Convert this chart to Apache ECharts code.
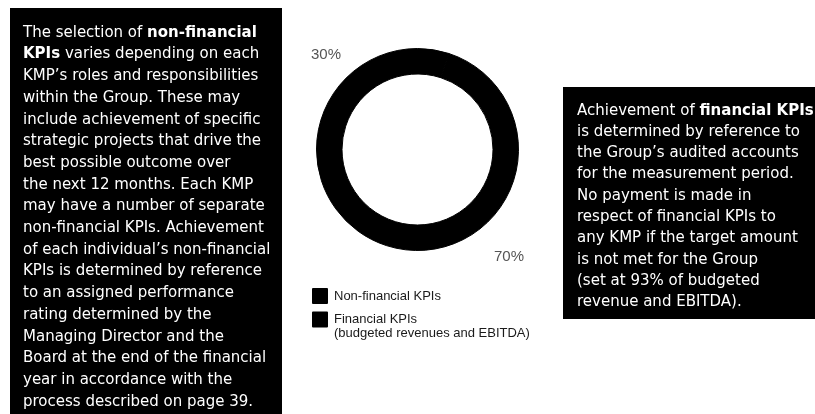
<!DOCTYPE html>
<html>
<head>
<meta charset="utf-8">
<script src="https://cdn.jsdelivr.net/npm/echarts@6/dist/echarts.min.js"></script>
<style>
html,body{margin:0;padding:0;background:#fff;}
#chart{width:815px;height:414px;}
</style>
</head>
<body>
<div id="chart"></div>
<script>
// ---- data ----
const categories = ['Non-financial KPIs', 'Financial KPIs'];
const values = [30, 70];
const legendNotes = ['', '(budgeted revenues and EBITDA)'];

const leftLines = [
  'The selection of {b|non-financial}',
  '{b|KPIs} varies depending on each',
  'KMP’s roles and responsibilities',
  'within the Group. These may',
  'include achievement of specific',
  'strategic projects that drive the',
  'best possible outcome over',
  'the next 12 months. Each KMP',
  'may have a number of separate',
  'non-financial KPIs. Achievement',
  'of each individual’s non-financial',
  'KPIs is determined by reference',
  'to an assigned performance',
  'rating determined by the',
  'Managing Director and the',
  'Board at the end of the financial',
  'year in accordance with the',
  'process described on page 39.'
];

const rightLines = [
  'Achievement of {b|financial KPIs}',
  'is determined by reference to',
  'the Group’s audited accounts',
  'for the measurement period.',
  'No payment is made in',
  'respect of financial KPIs to',
  'any KMP if the target amount',
  'is not met for the Group',
  '(set at 93% of budgeted',
  'revenue and EBITDA).'
];

// ---- chart ----
const chart = echarts.init(document.getElementById('chart'), null, {renderer: 'canvas'});
const FONT = 'DejaVu Sans';

function boxText(lines, lh) {
  return {
    text: lines.join('\n'),
    fill: '#fff',
    fontFamily: FONT,
    fontSize: 15,
    lineHeight: lh,
    verticalAlign: 'top',
    align: 'left',
    rich: {
      b: {fill: '#fff', fontFamily: FONT, fontSize: 15, fontWeight: 'bold', lineHeight: lh}
    }
  };
}

const legendText = {
  fontFamily: 'Liberation Sans',
  fontSize: 13,
  color: '#1a1a1a',
  lineHeight: 13.5,
  padding: [0, 0, 0, 2]
};

const option = {
  backgroundColor: '#fff',
  animation: false,
  color: ['#000', '#000'],
  legend: [
    {
      data: [categories[0]],
      orient: 'vertical',
      left: 312, top: 288,
      padding: 0,
      icon: 'rect',
      itemWidth: 14, itemHeight: 14,
      selectedMode: false,
      textStyle: legendText
    },
    {
      data: [categories[1]],
      orient: 'vertical',
      left: 312, top: 299.25,
      padding: 0,
      icon: 'rect',
      itemWidth: 14, itemHeight: 14,
      selectedMode: false,
      formatter: function (name) {
        const i = categories.indexOf(name);
        return legendNotes[i] ? ' \n' + name + '\n' + legendNotes[i] : name;
      },
      textStyle: legendText
    }
  ],
  series: [{
    type: 'pie',
    center: [417.5, 149.5],
    radius: [75.5, 101],
    startAngle: 180,
    clockwise: true,
    avoidLabelOverlap: false,
    silent: true,
    itemStyle: {borderWidth: 1, borderColor: '#000'},
    label: {
      show: true,
      position: 'outside',
      formatter: '{c}%',
      fontFamily: 'Liberation Sans',
      fontSize: 15,
      color: '#555',
      distanceToLabelLine: 3
    },
    labelLine: {show: false, length: 24, length2: 0},
    labelLayout: {dy: 6},
    data: categories.map(function (n, i) { return {name: n, value: values[i]}; })
  }],
  graphic: [
    {type: 'rect', shape: {x: 10, y: 8, width: 272, height: 420}, style: {fill: '#000'}, silent: true},
    {type: 'text', x: 23, y: 22, style: boxText(leftLines, 21.7), silent: true},
    {type: 'rect', shape: {x: 563, y: 87, width: 260, height: 232}, style: {fill: '#000'}, silent: true},
    {type: 'text', x: 577, y: 100, style: boxText(rightLines, 21.3), silent: true}
  ]
};
chart.setOption(option);
</script>
</body>
</html>
